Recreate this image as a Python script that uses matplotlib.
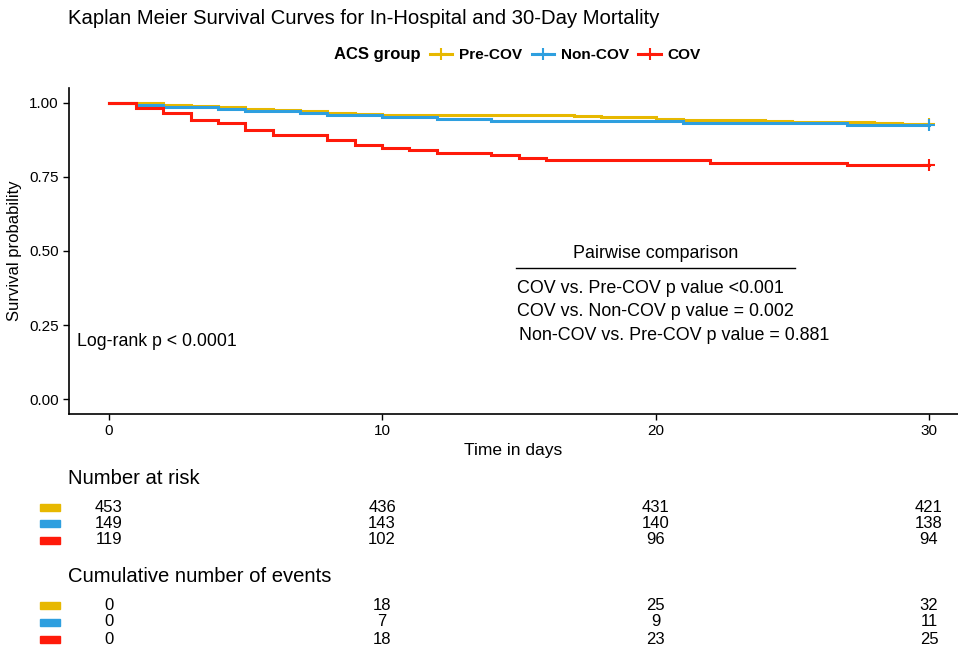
import numpy as np
import matplotlib
matplotlib.use('Agg')
import matplotlib.pyplot as plt
import matplotlib.transforms as mtransforms
from matplotlib.lines import Line2D

plt.rcParams['font.family'] = ['Liberation Sans', 'DejaVu Sans']

groups = ['Pre-COV', 'Non-COV', 'COV']
colors = ['#E7B800', '#2E9FDF', '#FF1A0A']
n_start = [453, 149, 119]

# event days and number of events on that day
pre_days = [1, 2, 3, 4, 5, 6, 7, 8, 9, 10, 11, 17, 18, 19, 20, 21, 23, 24, 25, 26, 28, 29]
pre_events = [1, 2, 2, 2, 2, 2, 2, 2, 2, 1, 1, 1, 1, 1, 3, 1, 1, 1, 1, 1, 1, 1]
non_days = [1, 2, 4, 5, 7, 8, 10, 12, 14, 21, 27]
non_events = [1, 1, 1, 1, 1, 1, 1, 1, 1, 1, 1]
cov_days = [1, 2, 3, 4, 5, 6, 8, 9, 10, 11, 12, 14, 15, 16, 22, 27]
cov_events = [2, 2, 3, 1, 3, 2, 2, 2, 1, 1, 1, 1, 1, 1, 1, 1]

risk_times = [0, 10, 20, 30]
at_risk = [[453, 436, 431, 421], [149, 143, 140, 138], [119, 102, 96, 94]]
cum_events = [[0, 18, 25, 32], [0, 7, 9, 11], [0, 18, 23, 25]]

pairwise = ['COV vs. Pre-COV p value <0.001',
            'COV vs. Non-COV p value = 0.002',
            'Non-COV vs. Pre-COV p value = 0.881']

W, H = 958, 653
fig = plt.figure(figsize=(W / 100, H / 100), dpi=100)
ax = fig.add_axes([69 / W, 1 - 414 / H, (W - 69) / W, (414 - 88) / H])


def km_curve(n, days, events):
    t = [0]
    s = [1.0]
    at = n
    surv = 1.0
    for d, e in zip(days, events):
        surv *= (at - e) / at
        at -= e
        t.append(d)
        s.append(surv)
    t.append(30)
    s.append(surv)
    return np.array(t), np.array(s)


series = [(pre_days, pre_events), (non_days, non_events), (cov_days, cov_events)]
for i, (d, e) in enumerate(series):
    t, s = km_curve(n_start[i], d, e)
    ax.step(t, s, where='post', color=colors[i], lw=2.2, solid_joinstyle='miter')
    ax.plot(t[-1], s[-1], marker='+', ms=9, mew=1.5, color=colors[i])

ax.set_xlim(-1.45, 31.06)
ax.set_ylim(-0.05, 1.05)
ax.set_xticks([0, 10, 20, 30])
ax.set_yticks([0, 0.25, 0.5, 0.75, 1.0])
ax.set_yticklabels(['0.00', '0.25', '0.50', '0.75', '1.00'])
ax.tick_params(labelsize=11, length=4, width=1, colors='black')
for side in ['top', 'right']:
    ax.spines[side].set_visible(False)
for side in ['left', 'bottom']:
    ax.spines[side].set_linewidth(1.2)
ax.set_xlabel('Time in days', fontsize=12.5, labelpad=3)
ax.set_ylabel('Survival probability', fontsize=12, labelpad=5)

ax.text(-1.15, 0.196, 'Log-rank p < 0.0001', fontsize=12.8, va='center', ha='left')

# pairwise comparison block
ax.text(20.0, 0.49, 'Pairwise comparison', fontsize=12.9, ha='center', va='center')
ax.plot([14.9, 25.1], [0.443, 0.443], color='black', lw=1)
py = [0.375, 0.297, 0.216]
for txt, yy, xx in zip(pairwise, py, [14.95, 14.95, 15.0]):
    ax.text(xx, yy, txt, fontsize=12.9, ha='left', va='center')

# title and legend
fig.text(68 / W, 1 - 18 / H, 'Kaplan Meier Survival Curves for In-Hospital and 30-Day Mortality',
         fontsize=14.6, ha='left', va='center')
fig.text(334 / W, 1 - 55 / H, 'ACS group', fontsize=12, fontweight='bold', ha='left', va='center')
handles = [Line2D([], [], color=c, lw=2.2, marker='+', ms=9, mew=1.5) for c in colors]
leg = fig.legend(handles, groups, loc='center left', bbox_to_anchor=(430 / W, 1 - 55 / H),
                 ncol=3, frameon=False, handlelength=1.45, handletextpad=0.45,
                 columnspacing=0.6, borderaxespad=0, borderpad=0,
                 prop={'size': 11.1, 'weight': 'bold'})

# risk tables
trans = mtransforms.blended_transform_factory(ax.transData, fig.transFigure)


def draw_table(title, title_y, rows, row_y):
    fig.text(68 / W, 1 - title_y / H, title, fontsize=14.6, ha='left', va='center')
    for i, vals in enumerate(rows):
        yy = 1 - row_y[i] / H
        fig.patches.append(plt.Rectangle((40 / W, yy - 3.5 / H), 20 / W, 7 / H,
                                         transform=fig.transFigure, color=colors[i],
                                         figure=fig))
        for t, v in zip(risk_times, vals):
            fig.text(t, yy, str(v), transform=trans, fontsize=12, ha='center', va='center')


draw_table('Number at risk', 478, at_risk, [507, 523, 540])
draw_table('Cumulative number of events', 577, cum_events, [605, 622, 639])

fig.savefig('out.png', dpi=100)
